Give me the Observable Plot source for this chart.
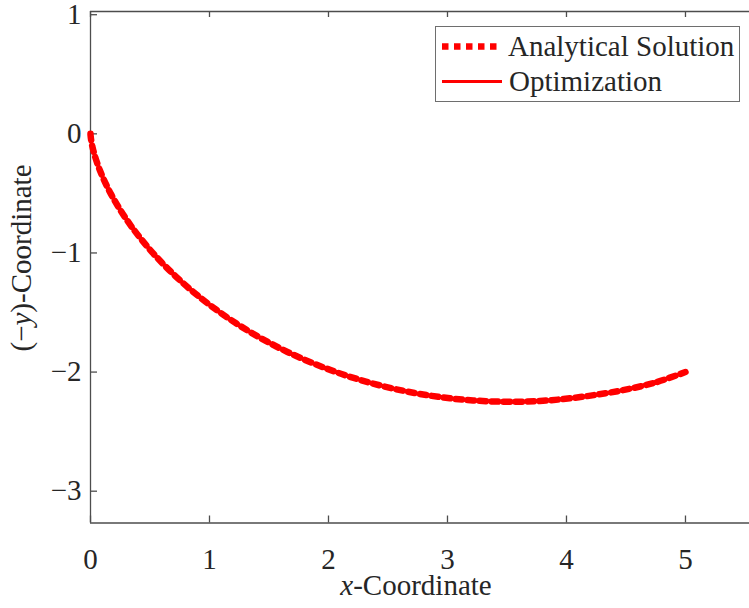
<!DOCTYPE html>
<html>
<head>
<meta charset="utf-8">
<script src="https://cdn.jsdelivr.net/npm/d3@7"></script>
<script src="https://cdn.jsdelivr.net/npm/@observablehq/plot@0.6"></script>
<style>
  html, body { margin: 0; padding: 0; background: #fff; }
  #chart { width: 749px; height: 608px; }
</style>
</head>
<body>
<div id="chart"></div>
<script>
// ---- data ----
const analyticalX = [0, 0.0006, 0.0051, 0.0232, 0.0769, 0.1783, 0.3385, 0.5651, 0.8614, 1.2266, 1.6553, 2.1384, 2.6634, 3.2151, 3.7766, 4.3306, 4.72, 5.0];
const analyticalY = [0, -0.0126, -0.0503, -0.1377, -0.3017, -0.5170, -0.7700, -1.0451, -1.3250, -1.5925, -1.8311, -2.0255, -2.1641, -2.2380, -2.2426, -2.1778, -2.095, -2.0];

const optimX = [0, 0.0051, 0.0232, 0.1, 0.25, 0.5, 0.75, 1.0, 1.5, 2.0, 2.5, 3.0, 3.5, 4.0, 4.5, 5.0];
const optimY = [0, -0.0503, -0.1377, -0.357, -0.640, -0.972, -1.227, -1.435, -1.752, -1.975, -2.127, -2.218, -2.249, -2.225, -2.144, -2.0];

const xTicks = [0, 1, 2, 3, 4, 5];
const yTicks = [1, 0, -1, -2, -3];
const xDomain = [0, 5.538];
const yDomain = [-3.267, 1.027];

const seriesNames = ["Analytical Solution", "Optimization"];
const xLabel = "x-Coordinate";
const yLabel = "(−y)-Coordinate";

// ---- build ----
const W = 749, H = 608;
const mL = 90, mT = 11, mR = 0, mB = 85.5;
const innerW = W - mL - mR, innerH = H - mT - mB;
const axisColor = "#4d4d4d";
const textColor = "#262626";
const font = "'Liberation Serif', 'Times New Roman', serif";
const fs = 29;

const analytical = analyticalX.map((x, i) => ({x, y: analyticalY[i]}));
const optim = optimX.map((x, i) => ({x, y: optimY[i]}));
const fmt = d => (d < 0 ? "\u2212" + Math.abs(d) : String(d));

const plot = Plot.plot({
  width: W, height: H,
  marginLeft: mL, marginTop: mT, marginRight: mR, marginBottom: mB,
  style: {fontFamily: font, fontSize: fs + "px", color: textColor, background: "#fff"},
  x: {domain: xDomain, axis: null},
  y: {domain: yDomain, axis: null},
  marks: [
    // axis tick labels
    Plot.axisX(xTicks, {tickSize: 0, tickPadding: 25, tickFormat: fmt, label: null, fill: textColor, fontSize: fs}),
    Plot.axisY(yTicks, {tickSize: 0, tickPadding: 9, tickFormat: fmt, label: null, fill: textColor, fontSize: fs}),
    // inward ticks (bottom, top, left)
    Plot.ruleX(xTicks, {x: d => d, insetTop: innerH - 7, stroke: axisColor, strokeWidth: 1.3}),
    Plot.ruleX(xTicks, {x: d => d, insetBottom: innerH - 6, stroke: axisColor, strokeWidth: 1.3}),
    Plot.ruleY(yTicks, {y: d => d, insetRight: innerW - 7, stroke: axisColor, strokeWidth: 1.3}),
    // box lines
    Plot.ruleX([xDomain[0]], {stroke: axisColor, strokeWidth: 1.3}),
    Plot.ruleY([yDomain[0]], {stroke: axisColor, strokeWidth: 1.3}),
    Plot.ruleY([yDomain[1]], {stroke: axisColor, strokeWidth: 1.3}),
    // series
    Plot.line(analytical, {x: "x", y: "y", stroke: "#ff0000", strokeWidth: 6.5, strokeDasharray: "6.5,5.5", curve: "catmull-rom"}),
    Plot.line(optim, {x: "x", y: "y", stroke: "#ff0000", strokeWidth: 3, curve: "catmull-rom"})
  ]
});

const svg = d3.select(plot);

// x axis label with italic math x
const xl = svg.append("text")
  .attr("x", 416).attr("y", 595)
  .attr("text-anchor", "middle")
  .attr("font-family", font).attr("font-size", fs).attr("fill", textColor);
xl.append("tspan").attr("font-style", "italic").text(xLabel.slice(0, 1));
xl.append("tspan").text(xLabel.slice(1));

// y axis label, rotated, with italic math y
const yl = svg.append("text")
  .attr("transform", "translate(31,258) rotate(-90)")
  .attr("text-anchor", "middle")
  .attr("font-family", font).attr("font-size", fs).attr("fill", textColor);
yl.append("tspan").text("(\u2212");
yl.append("tspan").attr("font-style", "italic").text("y");
yl.append("tspan").text(yLabel.slice(3));

// legend
const lg = svg.append("g");
lg.append("rect").attr("x", 435.5).attr("y", 26.5).attr("width", 304).attr("height", 75)
  .attr("fill", "#fff").attr("stroke", "#6e6e6e").attr("stroke-width", 1);
lg.append("line").attr("x1", 442).attr("x2", 502).attr("y1", 46.5).attr("y2", 46.5)
  .attr("stroke", "#ff0000").attr("stroke-width", 6.5).attr("stroke-dasharray", "6.5,5.5");
lg.append("line").attr("x1", 442).attr("x2", 502).attr("y1", 81.5).attr("y2", 81.5)
  .attr("stroke", "#ff0000").attr("stroke-width", 3);
lg.append("text").attr("x", 508).attr("y", 55.5).attr("text-anchor", "start")
  .attr("font-family", font).attr("font-size", fs).attr("fill", textColor).text(seriesNames[0]);
lg.append("text").attr("x", 509).attr("y", 90.5).attr("text-anchor", "start")
  .attr("font-family", font).attr("font-size", fs).attr("fill", textColor).text(seriesNames[1]);

document.getElementById("chart").appendChild(plot);
</script>
</body>
</html>
